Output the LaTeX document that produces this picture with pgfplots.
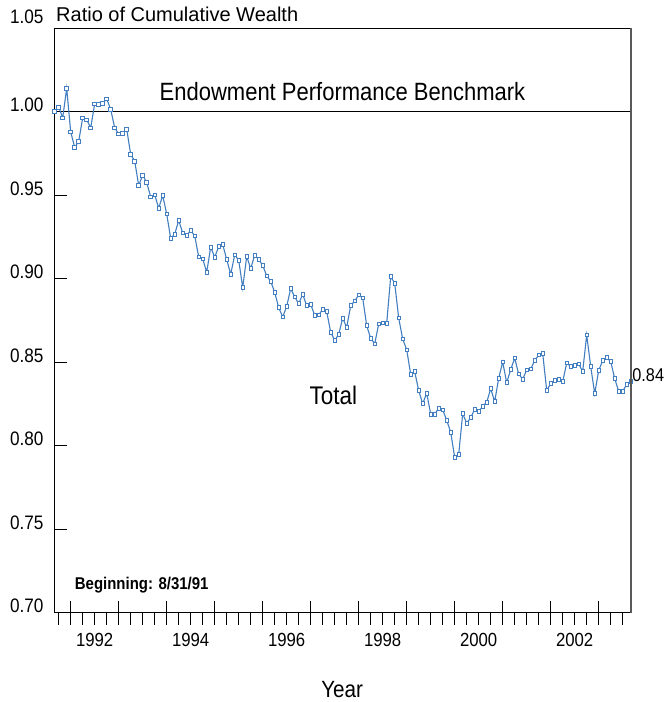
\documentclass[border=0pt]{standalone}
\usepackage{fontspec}
\setmainfont{Liberation Sans}[FakeStretch=0.88]
\newfontfamily\plainsans{Liberation Sans}
\usepackage{pgfplots}
\usepackage{pgfplotstable}
\pgfplotsset{compat=1.18}
\definecolor{lineblue}{RGB}{66,126,192}

\pgfplotstableread{
x y
0 1.0004
1 1.0028
2 0.9964
3 1.0140
4 0.9880
5 0.9787
6 0.9823
7 0.9964
8 0.9952
9 0.9904
10 1.0048
11 1.0044
12 1.0050
13 1.0078
14 1.0014
15 0.9904
16 0.9868
17 0.9872
18 0.9896
19 0.9745
20 0.9704
21 0.9559
22 0.9620
23 0.9577
24 0.9490
25 0.9502
26 0.9423
27 0.9499
28 0.9388
29 0.9241
30 0.9267
31 0.9349
32 0.9275
33 0.9259
34 0.9289
35 0.9257
36 0.9131
37 0.9119
38 0.9039
39 0.9189
40 0.9129
41 0.9193
42 0.9205
43 0.9115
44 0.9027
45 0.9143
46 0.9111
47 0.8947
48 0.9133
49 0.9061
50 0.9141
51 0.9115
52 0.9081
53 0.9017
54 0.8985
55 0.8919
56 0.8827
57 0.8771
58 0.8835
59 0.8941
60 0.8891
61 0.8851
62 0.8907
63 0.8839
64 0.8847
65 0.8781
66 0.8783
67 0.8817
68 0.8804
69 0.8679
70 0.8631
71 0.8667
72 0.8763
73 0.8709
74 0.8839
75 0.8867
76 0.8903
77 0.8885
78 0.8719
79 0.8643
80 0.8611
81 0.8729
82 0.8735
83 0.8733
84 0.9013
85 0.8973
86 0.8765
87 0.8639
88 0.8575
89 0.8427
90 0.8444
91 0.8330
92 0.8252
93 0.8315
94 0.8189
95 0.8189
96 0.8225
97 0.8215
98 0.8153
99 0.8080
100 0.7930
101 0.7948
102 0.8192
103 0.8135
104 0.8168
105 0.8219
106 0.8206
107 0.8236
108 0.8260
109 0.8342
110 0.8264
111 0.8405
112 0.8501
113 0.8378
114 0.8456
115 0.8525
116 0.8429
117 0.8399
118 0.8453
119 0.8459
120 0.8511
121 0.8543
122 0.8552
123 0.8332
124 0.8372
125 0.8391
126 0.8397
127 0.8384
128 0.8495
129 0.8475
130 0.8481
131 0.8489
132 0.8445
133 0.8663
134 0.8475
135 0.8312
136 0.8451
137 0.8510
138 0.8528
139 0.8505
140 0.8402
141 0.8326
142 0.8326
143 0.8368
144 0.8387
}\wealth

\begin{document}
\begin{tikzpicture}
\useasboundingbox (-54.7pt,-89.3pt) rectangle (610.3pt,612.7pt);
\begin{axis}[
  at={(0pt,0pt)}, anchor=south west,
  scale only axis, width=576pt, height=584.4pt,
  xmin=0, xmax=144, ymin=0.70, ymax=1.05,
  axis line style={black, line width=1.2pt},
  tick style={black, line width=1pt},
  tick align=inside,
  major tick length=12pt,
  xtick pos=bottom, ytick pos=left,
  xtick={4,16,...,136},
  xticklabels={1992,,1994,,1996,,1998,,2000,,2002,},
  xticklabel style={anchor=base, inner sep=0pt, xshift=24pt, yshift=-33.3pt, font=\fontsize{19}{19}\selectfont},
  extra x ticks={1,4,...,142},
  extra x tick labels={},
  extra x tick style={tick align=outside},
  ytick={0.70,0.75,0.80,0.85,0.90,0.95,1.00,1.05},
  yticklabels={0.70,0.75,0.80,0.85,0.90,0.95,1.00,\raisebox{5pt}{1.05}},
  yticklabel style={anchor=base east, inner sep=0pt, xshift=-11pt, font=\fontsize{19.5}{19.5}\selectfont},
  /pgf/number format/assume math mode=true,
  clip=false,
]
\addplot[black, line width=1.2pt, mark=none] coordinates {(0,1) (144,1)};
\addplot[lineblue, line width=1.1pt, mark=square*, mark size=1.8pt,
  mark options={fill=white, draw=lineblue, line width=0.8pt, solid}]
  table[x=x, y=y]{\wealth};
\end{axis}
\draw[black!65, line width=1.6pt] (576pt,0pt) -- (576pt,584.4pt);
\node[anchor=base west, inner sep=0pt, font=\plainsans\fontsize{20}{20}\selectfont] at (1.3pt,591pt) {Ratio of Cumulative Wealth};
\node[anchor=base, inner sep=0pt, font=\fontsize{25}{25}\selectfont] at (287.8pt,512pt) {Endowment Performance Benchmark};
\node[anchor=base, inner sep=0pt, font=\fontsize{25.5}{25.5}\selectfont] at (278.6pt,207.7pt) {Total};
\node[anchor=base west, inner sep=0pt, font=\fontsize{18.5}{18.5}\selectfont] at (577.5pt,231pt) {0.84};
\node[anchor=base west, inner sep=0pt, font=\bfseries\fontsize{17}{17}\selectfont] at (20pt,23.4pt) {Beginning: 8/31/91};
\node[anchor=base, inner sep=0pt, font=\fontsize{23.5}{23.5}\selectfont] at (287.5pt,-84.3pt) {Year};
\end{tikzpicture}
\end{document}
